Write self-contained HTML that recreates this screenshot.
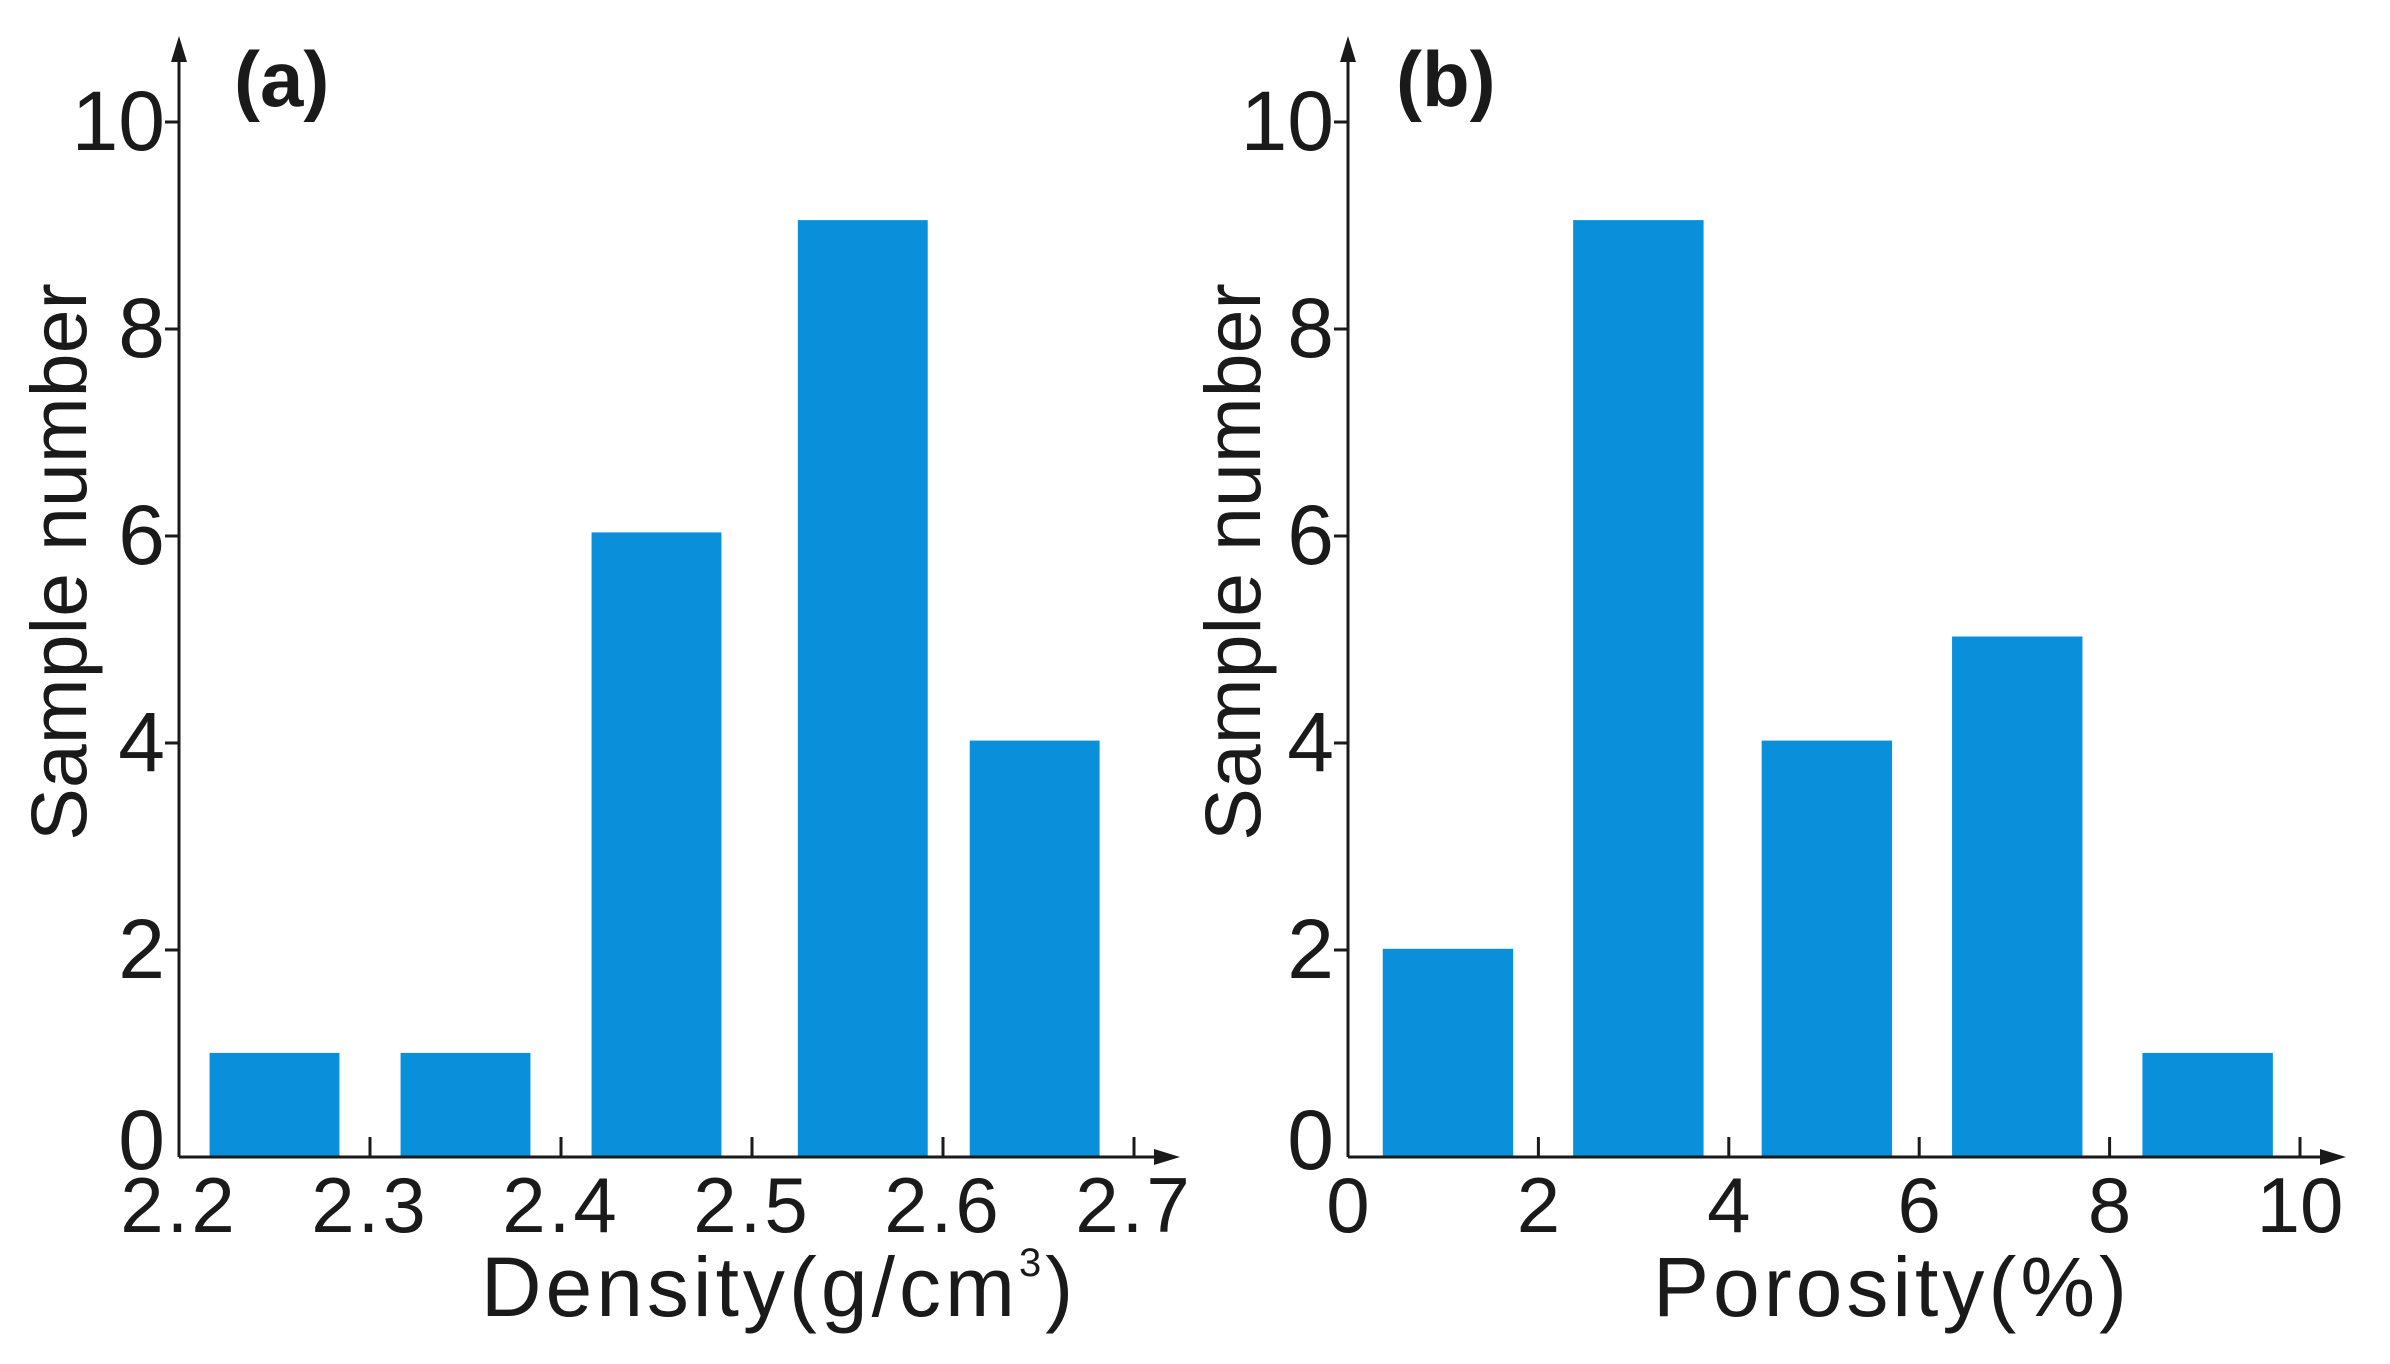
<!DOCTYPE html>
<html><head><meta charset="utf-8"><style>
html,body{margin:0;padding:0;background:#fff}
svg{display:block}
text{font-family:"Liberation Sans",sans-serif;fill:#1a1a1a}
</style></head><body>
<svg id="chart" width="2390" height="1364" viewBox="0 0 2390 1364" xmlns="http://www.w3.org/2000/svg"></svg>
<script>
const densityCenters = [2.25, 2.35, 2.45, 2.558, 2.648];
const densityCounts = [1, 1, 6, 9, 4];
const densityTicks = ["2.2","2.3","2.4","2.5","2.6","2.7"];
const porosityCenters = [1.05, 3.05, 5.03, 7.03, 9.03];
const porosityCounts = [2, 9, 4, 5, 1];
const porosityTicks = ["0","2","4","6","8","10"];
const yTicks = ["0","2","4","6","8","10"];

const svg = document.getElementById('chart');
const NS = 'http://www.w3.org/2000/svg';
function mk(tag, attrs, parent){const e=document.createElementNS(NS,tag);for(const k in attrs)e.setAttribute(k,attrs[k]);(parent||svg).appendChild(e);return e;}

function panel(cfg){
  const g = mk('g',{});
  
  
  const x0 = cfg.axisX, y0 = 1157, yTop = 122;
  const yScale = v => y0 - v*(y0-yTop)/10;
  const barScale = v => y0 - v*(y0-yTop+6)/10;
  const xScale = v => x0 + (v - cfg.xMin)/(cfg.xMax - cfg.xMin)*cfg.xLen;
  cfg.centers.forEach((c,i)=>{
    const l = xScale(c - cfg.bw/2), r = xScale(c + cfg.bw/2);
    const b = mk('rect',{x:l,y:barScale(cfg.counts[i]),width:r-l,height:y0-barScale(cfg.counts[i]),fill:'#0a8fdb'},g);
    
    
  });
  const ya = mk('line',{x1:x0,y1:y0,x2:x0,y2:50,stroke:'#1a1a1a','stroke-width':3},g);
  
  
  mk('polygon',{points:`${x0-8},${62} ${x0},${36} ${x0+8},${62}`,fill:'#1a1a1a'},g);
  const xa = mk('line',{x1:x0,y1:y0,x2:x0+cfg.xLen+30,y2:y0,stroke:'#1a1a1a','stroke-width':3},g);
  
  
  mk('polygon',{points:`${x0+cfg.xLen+20},${y0-8} ${x0+cfg.xLen+46},${y0} ${x0+cfg.xLen+20},${y0+8}`,fill:'#1a1a1a'},g);
  yTicks.forEach((t,i)=>{
    const v = +t, y = yScale(v);
    if(v>0) mk('line',{x1:x0-14,y1:y,x2:x0,y2:y,stroke:'#1a1a1a','stroke-width':3},g);
    const tx = mk('text',{x:x0-14,y:y+(v===0?12:28),'font-size':84,'text-anchor':'end'},g);
    tx.textContent = t;
    
    
  });
  cfg.ticks.forEach((t,i)=>{
    const v = +t, x = xScale(v);
    if(i>0) mk('line',{x1:x,y1:y0,x2:x,y2:y0-20,stroke:'#1a1a1a','stroke-width':3},g);
    const tx = mk('text',{x:x,y:1232,'font-size':78,'text-anchor':'middle','letter-spacing':cfg.ls},g);
    tx.textContent = t;
    
    
  });
  const yt = mk('text',{x:0,y:0,'font-size':79,'text-anchor':'middle',transform:`translate(${cfg.yTitleX},562) rotate(-90)`},g);
  yt.textContent='Sample number';
  
  
  const lb = mk('text',{x:cfg.labelX,y:106,'font-size':78,'font-weight':'bold'},g);
  lb.textContent=cfg.label;
  
  
  const xt = mk('text',{x:cfg.xTitleX,y:1316,'font-size':84,'text-anchor':'middle','letter-spacing':4},g);
  
  
  if(cfg.sup){
    xt.appendChild(document.createTextNode('Density(g/cm'));
    const s=mk('tspan',{'font-size':40,dy:-40},xt);s.textContent='3';
    const s2=mk('tspan',{dy:40},xt);s2.textContent=')';
  } else xt.textContent=cfg.xTitle;
}
panel({name:'density-panel',axisX:179,xMin:2.2,xMax:2.7,xLen:955,centers:densityCenters,counts:densityCounts,bw:0.068,ticks:densityTicks,yTitleX:86,labelX:234,label:'(a)',xTitleX:779,sup:true,ls:3});
panel({name:'porosity-panel',axisX:1348,xMin:0,xMax:10,xLen:952,centers:porosityCenters,counts:porosityCounts,bw:1.37,ticks:porosityTicks,yTitleX:1260,labelX:1396,label:'(b)',xTitleX:1892,xTitle:'Porosity(%)',ls:0});
</script>
</body></html>
